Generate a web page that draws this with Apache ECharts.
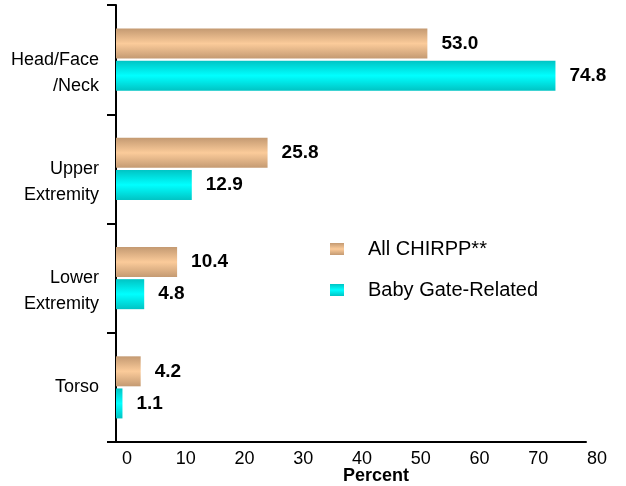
<!DOCTYPE html>
<html>
<head>
<meta charset="utf-8">
<script src="https://cdn.jsdelivr.net/npm/echarts@6/dist/echarts.min.js"></script>
<style>
html, body { margin: 0; padding: 0; background: #fff; }
#main { width: 626px; height: 486px; }
</style>
</head>
<body>
<div id="main"></div>
<script>
// 数据
var categories = ['Head/Face\n/Neck', 'Upper\nExtremity', 'Lower\nExtremity', 'Torso'];
var allChirpp = [53.0, 25.8, 10.4, 4.2];
var babyGate = [74.8, 12.9, 4.8, 1.1];
var seriesNames = ['All CHIRPP**', 'Baby Gate-Related'];
var xTicks = [0, 10, 20, 30, 40, 50, 60, 70, 80];

var font = 'Liberation Sans, Arial, sans-serif';

function grad(edge, mid) {
    return new echarts.graphic.LinearGradient(0, 0, 0, 1, [
        { offset: 0, color: edge },
        { offset: 0.5, color: mid },
        { offset: 1, color: edge }
    ]);
}

var myChart = echarts.init(document.getElementById('main'));
var valueLabel = {
    show: true,
    position: 'right',
    distance: 14,
    color: '#000',
    fontFamily: font,
    fontSize: 19,
    fontWeight: 'bold',
    formatter: function (p) { return p.value.toFixed(1); }
};
var option = {
    animation: false,
    backgroundColor: '#fff',
    legend: {
        orient: 'vertical',
        left: 325,
        top: 234,
        icon: 'rect',
        itemWidth: 14,
        itemHeight: 12,
        itemGap: 21,
        data: seriesNames,
        textStyle: {
            color: '#000',
            fontFamily: font,
            fontSize: 20,
            padding: [0, 0, 0, 19]
        }
    },
    grid: {
        left: 116,
        right: 40,
        top: 5,
        bottom: 44,
        outerBoundsMode: 'none'
    },
    xAxis: {
        type: 'value',
        min: xTicks[0],
        max: xTicks[xTicks.length - 1],
        interval: 10,
        name: 'Percent',
        nameLocation: 'middle',
        nameGap: 25,
        nameMoveOverlap: false,
        nameTextStyle: {
            color: '#000',
            fontFamily: font,
            fontSize: 18,
            fontWeight: 'bold',
            padding: [0, 0, 0, 50]
        },
        splitLine: { show: false },
        axisTick: { show: false },
        axisLine: { show: true, lineStyle: { color: '#000', width: 2 } },
        axisLabel: {
            color: '#000',
            fontFamily: font,
            fontSize: 18,
            margin: 8,
            padding: [0, 0, 0, 22]
        }
    },
    yAxis: {
        type: 'category',
        inverse: true,
        data: categories,
        axisLine: { show: true, lineStyle: { color: '#000', width: 2 } },
        axisTick: { show: true, length: 9, lineStyle: { color: '#000', width: 2 } },
        axisLabel: {
            color: '#000',
            fontFamily: font,
            fontSize: 18,
            lineHeight: 26,
            margin: 17,
            formatter: function (v) {
                // 两行标签：第一行对齐中心
                return v.indexOf('\n') >= 0 ? ' \n' + v : v;
            }
        }
    },
    series: [
        {
            name: seriesNames[0],
            type: 'bar',
            data: allChirpp,
            barWidth: 30,
            barGap: '7%',
            itemStyle: { color: grad('#c49a72', '#fbcb9a') },
            label: valueLabel
        },
        {
            name: seriesNames[1],
            type: 'bar',
            data: babyGate,
            barWidth: 30,
            barGap: '7%',
            itemStyle: { color: grad('#00c4c4', '#00ffff') },
            label: valueLabel
        }
    ]
};
myChart.setOption(option, true);
window.onresize = myChart.resize;
</script>
</body>
</html>
